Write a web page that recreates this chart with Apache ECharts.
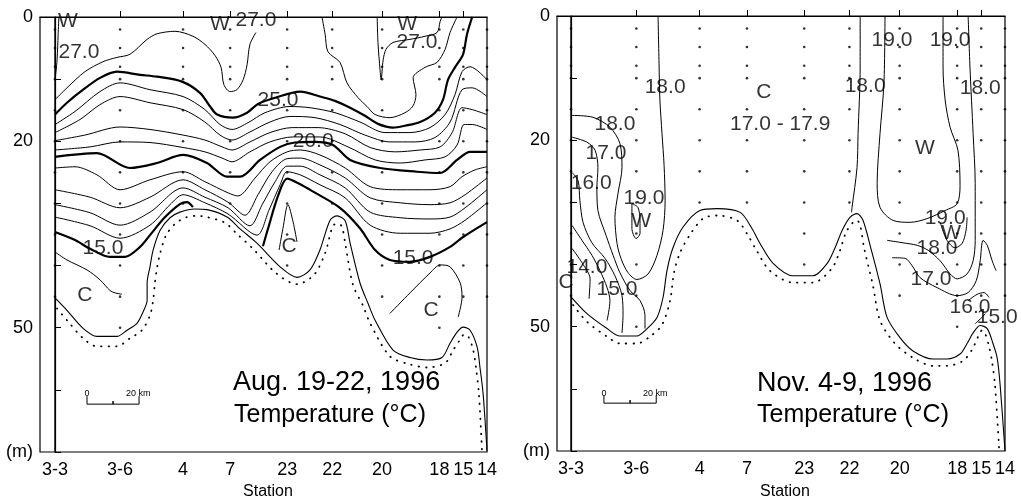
<!DOCTYPE html>
<html><head><meta charset="utf-8">
<script src="https://cdn.jsdelivr.net/npm/echarts@6/dist/echarts.min.js"></script>
<style>html,body{margin:0;padding:0;background:#fff}#c{width:1021px;height:502px}</style>
</head><body><div id="c"></div>
<script>
// ---------------- data ----------------
const stationNames = ['3-3','3-6','4','7','23','22','20','18','15','14'];
const stationKm    = [0, 25, 49.2, 67.3, 89.2, 106.5, 125.7, 147.7, 156.9, 166];
const sampleDepths = [2, 5, 8, 10, 15, 20, 25, 30, 35, 40, 45, 50];
const augMaxDepth  = [45, 50, 30, 30, 40, 30, 45, 50, 45, 45];
const novMaxDepth  = [45, 50, 30, 30, 40, 30, 45, 50, 45, 45];
const depthLabels  = [0, 20, 50, 70];

// August section contours [km, m]
const aug27a = [[1.5,0],[1.2,2.8],[0.8,6.9],[0,10.2]];
const aug27b = [[0,13.3],[4.6,11.4],[11.5,8.8],[18.4,7.2],[23.8,6.5],[28.8,6],[35.4,3.6],[39.2,2.7],[46.1,2.3],[53,3.1],[57.6,4.4],[61.5,6.2],[63.8,8.1],[64.9,10.9],[67.3,12],[69.9,11.7],[72.3,10.1],[73.8,7.7],[74.9,4.4],[77.2,2.5]];
const aug27c = [[123.8,0],[124.1,4.1],[124.9,8.5],[125.3,10.1],[126.1,6.9],[127.2,5.2],[129.9,4.1],[136.4,3.6],[142.2,3.1],[146.8,2.5],[148,0.7],[148.7,0]];
const aug26  = [[102.6,0],[103.8,2.8],[104.9,5.6],[109.5,7.3],[112.2,10.6],[116.5,13],[119.9,14.4],[123,15.7],[128.7,16.2],[134.5,15.4],[137.6,14.3],[138.7,12.5],[137.6,9.8],[142.2,8.1],[146.8,7.3],[149.9,5.2],[151.8,2.5],[154.5,0]];
const aug25  = [[0,15.7],[4.6,13.8],[10.8,11.7],[17.3,9.8],[23.8,8.8],[32.7,9.3],[39.2,9.6],[48.8,10.4],[55.7,12.2],[59.6,14.4],[62.3,15.7],[68.4,16.2],[73.8,15.4],[78,14],[84.6,13],[94.2,12],[101.8,12.8],[107.6,13.5],[113.4,14.6],[119.1,15.9],[124.1,17.2],[129.9,17.8],[134.5,17.5],[140.3,16.9],[146,15.4],[149.1,13.3],[151,10.1],[153.7,8.1],[156.8,6],[158.3,2.8],[160.3,0]];
const aug24  = [[0,17.3],[7.7,15.2],[17.3,12],[25,10.6],[36.5,11.7],[49.2,12.8],[57.6,14.9],[63.4,17.3],[68,18.1],[74.2,17],[80.7,15.4],[90.3,14.4],[98,14.6],[107.6,15.4],[117.2,16.9],[126.8,18.6],[136.4,18.6],[144.1,17.8],[149.9,15.7],[153.7,12.5],[156.4,8.8],[159.5,8],[166,10.1]];
const aug23  = [[0,18.6],[9.6,16.5],[17.3,14.1],[25,12.8],[36.5,13.8],[49.2,14.9],[57.6,16.9],[63.4,19],[68,19.8],[74.9,18.5],[82.6,16.9],[90.3,16],[99.9,16.2],[109.5,17.3],[119.1,19],[128.7,20.1],[138.4,20.1],[146,19.4],[151.8,16.9],[156.4,11.7],[160.3,11.4],[166,12.8]];
const aug22  = [[0,19.9],[11.5,19],[25,17.7],[36.5,18.1],[49.2,19],[57.6,19.8],[64.2,20.9],[68,21.4],[74.9,20.1],[82.6,18.6],[91.1,17.8],[101.1,17.8],[111.5,18.8],[121.1,21],[130.7,21.7],[140.3,21.4],[148,20.9],[152.6,18.6],[156.4,14.6],[160.3,14.9],[166,15.7]];
const aug21  = [[0,21.4],[13.5,20.9],[25,20.1],[36.5,20.2],[49.2,21],[57.6,21.7],[64.2,22.7],[68,23.3],[74.9,21.7],[82.6,20.1],[91.5,19.3],[101.8,19.3],[112.6,20.9],[123,23],[132.6,23.5],[142.2,23],[149.9,22.5],[154.5,20.6],[157.2,17.3],[160.3,17.3],[166,18.1]];
const aug20  = [[0,22.5],[16.1,21.9],[28.8,24.3],[39.2,23.5],[49.2,22.2],[58.4,23.5],[66.1,25.7],[71.1,25.7],[78.8,23],[86.5,20.9],[92.2,20.2],[99.9,20.1],[106.8,20.6],[113.4,23],[124.9,24.3],[139.1,24.9],[148,25.1],[154.5,23],[159.5,21.7],[166,21.7]];
const aug19  = [[0,24.3],[7.7,24.1],[16.1,25.4],[25,27.8],[36.5,26.2],[49.2,24.9],[57.6,26.5],[66.5,28.3],[70.3,28.8],[76.9,25.9],[82.6,23.3],[89.2,21.7],[94.2,21.4],[101.8,22.2],[111.5,24.3],[121.1,27.3],[132.6,27.8],[144.1,27.8],[151.8,27.3],[156.4,25.7],[161.4,24.6],[166,24.1]];
const aug18  = [[0,27.8],[13.5,29],[25,30.7],[36.5,29],[49.2,26.2],[57.6,27.8],[66.5,29.8],[73,31.9],[78,28.6],[83.4,24.9],[89.2,22.8],[94.2,22.7],[101.8,23.8],[111.5,25.9],[121.1,29.1],[132.6,29.9],[144.1,30.2],[151.8,29.9],[157.6,28.6],[166,25.9]];
const aug17  = [[0,30.2],[13.5,31.5],[25,33.5],[36.5,31.4],[49.2,27.5],[57.6,29],[66.5,30.7],[74.9,33.6],[79.6,30.2],[84.6,26.5],[89.2,24],[94.2,24],[101.8,25.4],[111.5,27.5],[121.1,31.4],[132.6,32.3],[144.1,32.5],[151.8,32.2],[157.6,30.7],[166,27.8]];
const aug16  = [[0,32.2],[13.5,33.6],[25,35.6],[36.5,33.5],[44.2,30.2],[49.2,28.6],[57.6,29.9],[66.5,31.7],[77.6,35.1],[82.2,31.1],[86.5,27],[89.2,24.9],[94.2,25.4],[101.8,27],[111.5,29.1],[121.1,33.5],[132.6,34.8],[144.1,34.8],[151.8,34.1],[157.6,32.7],[166,29.9]];
const aug15a = [[0,34.6],[7.7,35.9],[13.5,37.3],[21.1,38.6],[26.9,38.6],[32.7,37],[36.5,35.1],[42.3,32.2],[48,30.1],[50.7,29.8],[53,30.6]];
const aug15b = [[79.9,36.9],[81.9,34],[85.7,28.8],[89.2,26],[94.2,26.9],[99.2,28.1],[109.5,30.7],[117.2,34],[123,37.5],[128.7,39.1],[136.4,39.4],[144.1,38.6],[151.8,37],[156.8,35.4],[166,33]];
const aug14a = [[0,37.8],[4.6,39.1],[12.3,40.7],[17.3,42.3],[21.1,44],[23.1,44.4],[25.7,44.6]];
const aug14b = [[86.1,37.5],[87.6,34],[89.5,30.2],[91.5,33],[93,36.2]];
const aug14c = [[128.7,47.7],[136.4,44.4],[144.1,41.2],[148,39.9],[151.8,40.2],[155.7,42.8],[156.4,45.1],[154.9,48.3]];
const augBold = [aug25, aug20, aug15a, aug15b];
const augThin = [aug27a, aug27b, aug27c, aug26, aug24, aug23, aug22, aug21, aug19, aug18, aug17, aug16, aug14a, aug14b, aug14c];

const augDataEdge = [[0,45.2],[4.6,47.2],[10.8,50.1],[16.1,51.4],[23.8,51.4],[27.7,50.4],[31.5,49.3],[33.8,47.5],[35.4,45.6],[35.4,42.8],[36.5,40.2],[37.7,37.5],[40.4,34.3],[44.2,32.3],[48,31.4],[53.8,30.9],[58.4,31],[66.1,32.2],[71.1,34.1],[77.6,36.4],[86.5,40.2],[93,41.9],[98,40.7],[101.8,37.5],[105.7,32.7],[108.4,32],[111.5,32.8],[113.4,36.4],[117.2,42.8],[120.3,46.1],[123,48.8],[129.9,53.6],[136.4,54.8],[143,55.2],[148.7,54.8],[151.8,52.5],[154.5,50.7],[156.8,49.9],[159.5,50.4],[162.2,53.1],[163.3,56.4],[164.5,60.6],[166,69.8]];
const augSeabed = [[0.8,46.9],[4.6,48.8],[10.8,51.7],[16.1,53],[23.8,53],[28.8,51.7],[33.4,50.4],[36.5,48],[37.7,45.6],[38.4,42.8],[39.2,40.4],[40.4,38],[42.7,35.1],[46.1,33.3],[50,32.3],[54.6,32],[58.4,32.2],[65.3,33.1],[69.9,34.9],[76.1,37.3],[84.9,41.2],[93,43],[99.5,41.5],[103.8,38],[106.8,33.6],[108.8,33.2],[110.3,33.8],[111.5,36.4],[114.5,43.1],[118.4,46.5],[121.1,49.3],[128.7,54.6],[136.4,55.9],[143,56.4],[149.9,55.7],[153,53.6],[155.7,51.9],[157.2,51.1],[158.8,51.4],[160.7,53.6],[161.8,56.5],[162.9,60.7],[164.1,70]];

const augLabels = [[5,0.6,'W'],[9.2,5.6,'27.0'],[63.4,1.1,'W'],[77.2,0.5,'27.0'],[135.3,1.1,'W'],[139.1,4,'27.0'],[85.7,13.4,'25.0'],[99.2,20,'20.0'],[18.4,37.2,'15.0'],[137.6,38.8,'15.0'],[11.5,44.7,'C'],[89.9,36.9,'C'],[144.5,47.2,'C']];

// November section contours [km, m]
const nov18a = [[0.4,16],[8.4,16.3],[14.9,17.9],[18.7,20.5],[19.5,24.4],[18,28.5],[16.8,32.4],[17.6,36.6],[19.1,39],[21.8,41.3],[25.2,42.4],[29.5,41.5],[32.9,38.5],[35.2,34.5],[36,29.7],[35.6,24],[34.8,18.9],[34,13.5],[33.7,8.2],[33.3,0]];
const nov17a = [[0.4,19.5],[6.1,20.3],[9.2,21.6],[10.3,24.4],[9.9,27.6],[10.3,31.3],[13.4,35.3],[16.1,38.5],[18.7,41.3],[22.6,44.2],[26.4,45.8],[28.3,48.2],[28.3,50.3]];
const nov16a = [[0.4,25.2],[2.7,26.5],[3.4,29.7],[4.6,33.2],[8,36.5],[13,39],[16.8,41.8],[19.5,45],[19.9,48.2],[19.5,51]];
const nov15a = [[0.4,33.7],[4.2,36.1],[8,38.5],[11.1,41],[13.8,43.7],[14.9,45.8],[13.8,49]];
const nov14a = [[0.4,37.4],[4.2,39.7],[7.3,42.3],[6.9,45.5]];
const nov19a = [[23.3,30.2],[25.6,30.8],[26.4,32.9],[26.4,35],[24.9,35.8],[23.3,34.2],[23.3,32.1],[23.3,30.2]];
const nov18b = [[110.6,0],[110.6,8.2],[109.8,18.9],[109.4,24.4],[107.5,30.8],[107.3,31.6]];
const nov19b = [[120.1,0],[119.7,10.8],[118.2,18.9],[117.1,26.9],[118.2,30.8],[123.2,32.9],[129.7,33.2],[136.2,32.6],[143.1,31.3],[147.7,30.2],[148.8,27.3],[148,21.6],[145,17.9],[143.1,13.5],[142.3,8.2],[142.3,0]];
const nov19c = [[141.2,33.2],[143.8,36.1],[146.9,37.3],[149.6,36.6],[151.1,34.5],[151.5,32.4]];
const nov18c = [[151.9,0],[152.6,8.2],[153.8,18.9],[154.6,26.9],[154.6,32.4],[154.6,36.1],[153.8,39.4],[151.5,41.5],[147.7,42.3],[145,41.5],[141.2,39.4],[136.6,37.7],[132.4,36.9],[127,36.5],[120.9,36.1]];
const nov17c = [[122.8,38.9],[127.8,39],[130.5,40.2],[133.5,42.1],[140,43.7],[147.7,45],[151.9,44.5],[155,42.6],[156.5,39.4],[157.6,36.1],[159.2,36.9],[161.1,39.4],[162.6,41]];
const nov16c = [[151.9,45.8],[155.3,44.8],[158,44.5],[159.9,45.3]];
const nov15c = [[154.6,49.5],[157.2,48.5],[158.4,47.9]];
const novThin = [nov18a, nov17a, nov16a, nov15a, nov14a, nov19a, nov18b, nov19b, nov19c, nov18c, nov17c, nov16c, nov15c];

const novDataEdge = [[0,45.2],[6.1,47.9],[13.8,50.3],[18.7,51.5],[25.2,51.5],[29.1,50.3],[32.9,48.5],[35.2,45.3],[36.7,41],[39,37.3],[42.8,34],[49.3,31.3],[55.9,31],[64.7,31.6],[69.2,34.2],[72.3,36.6],[77.3,39.8],[84.9,41.8],[92.6,41.8],[98,39.8],[101,37.3],[103.7,34.5],[106.7,32.4],[109.4,31.8],[111.7,32.9],[114.4,36.9],[118.2,43.1],[120.9,48.5],[125.9,51.8],[130.8,53.9],[138.5,55.2],[143.8,55.2],[148.8,54.4],[151.5,52.7],[153.8,51],[156.5,49.8],[159.2,50.3],[161.4,52.7],[163,55],[164.1,59.2],[166,70]];
const novSeabed = [[0.8,46.5],[6.1,49.2],[13.8,51.6],[18.7,52.7],[25.2,52.7],[30.2,51.6],[34.8,49.7],[37.9,45.8],[39.4,41.3],[41.7,38.1],[45.5,35.2],[50.5,32.6],[55.9,32.1],[63.5,32.9],[67.7,35.3],[71.2,37.9],[76.1,41],[84.9,42.9],[92.6,42.9],[99.8,40.6],[102.9,37.7],[105.2,34.8],[107.9,33.2],[109.4,32.9],[110.6,33.7],[112.1,37.3],[115.5,43.4],[118.2,49],[123.9,52.7],[130.8,55],[138.5,56.3],[143.8,56.3],[149.9,55.5],[153.4,53.7],[155.7,51.6],[157.2,50.6],[158.4,51.1],[159.9,53.2],[161,55.5],[162.2,59.5],[163.8,70]];

const novLabels = [[36,11.5,'18.0'],[73.8,12.3,'C'],[80,17.4,'17.0 - 17.9'],[112.5,11.3,'18.0'],[122.8,3.9,'19.0'],[145,3.9,'19.0'],[156.5,11.6,'18.0'],[135.4,21.3,'W'],[16.8,17.4,'18.0'],[13.4,22.1,'17.0'],[7.7,26.9,'16.0'],[27.9,29.4,'19.0'],[26.8,33.1,'W'],[6.1,40.5,'14.0'],[-1.9,42.9,'C'],[17.6,43.9,'15.0'],[143.1,32.6,'19.0'],[145.4,35,'W'],[140,37.4,'18.0'],[137.7,42.3,'17.0'],[152.6,46.8,'16.0'],[163,48.5,'15.0']];

const scaleKm = 20;
const augScaleStart = 12.3, novScaleStart = 12.6;
const scaleDepth = 62.3;

// ---------------- chart ----------------
const FONT = '"Liberation Sans", Arial, Helvetica, sans-serif';
const chart = echarts.init(document.getElementById('c'), null, {renderer: 'canvas'});

function stationName(v) {
  for (let i = 0; i < stationKm.length; i++) if (Math.abs(stationKm[i] - v) < 0.01) return stationNames[i];
  return '';
}
function lineSeries(g, data, width, extra) {
  return Object.assign({
    type: 'line', xAxisIndex: g, yAxisIndex: g, data: data,
    symbol: 'none', showSymbol: false, smooth: 0.3, silent: true, animation: false,
    lineStyle: {color: '#000', width: width}, z: 3
  }, extra || {});
}
function dotsSeries(g, maxDepth) {
  const pts = [];
  stationKm.forEach((x, i) => sampleDepths.forEach(d => { if (d <= maxDepth[i]) pts.push([x, d]); }));
  return {type: 'scatter', xAxisIndex: g, yAxisIndex: g, data: pts, symbolSize: 2.6,
          itemStyle: {color: '#000'}, silent: true, animation: false, z: 4};
}
function labelSeries(g, labels) {
  return {type: 'scatter', xAxisIndex: g, yAxisIndex: g, symbolSize: 1, clip: false,
          data: labels.map(l => ({value: [l[0], l[1]], name: l[2]})),
          itemStyle: {color: 'rgba(0,0,0,0)'}, silent: true, animation: false, z: 6,
          label: {show: true, position: 'inside', formatter: '{b}', fontSize: 21, color: '#000', fontFamily: FONT}};
}
function scaleBar(g, x0) {
  const d = scaleDepth;
  return lineSeries(g, [[x0, d - 1.3], [x0, d], [x0 + scaleKm / 2, d], [x0 + scaleKm / 2, d - 0.5], [x0 + scaleKm / 2, d], [x0 + scaleKm, d], [x0 + scaleKm, d - 1.3]], 1, {smooth: false});
}
function xAxis(g, min) {
  return {gridIndex: g, type: 'value', min: min, max: 166,
    axisLine: {show: true, lineStyle: {color: '#000', width: 1.2}},
    axisTick: {show: true, inside: true, length: 6, customValues: stationKm.slice(1, -1), lineStyle: {color: '#000'}},
    axisLabel: {customValues: stationKm, formatter: v => stationName(v), fontSize: 18, color: '#000', margin: 9, fontFamily: FONT},
    splitLine: {show: false}};
}
function yAxis(g) {
  return {gridIndex: g, type: 'value', inverse: true, min: 0, max: 70, interval: 10,
    axisLine: {show: true, lineStyle: {color: '#000', width: 1.2}},
    axisTick: {show: true, inside: true, length: 6, lineStyle: {color: '#000'}},
    axisLabel: {customValues: depthLabels, formatter: v => (v === 70 ? '(m)' : String(v)), fontSize: 18, color: '#000', margin: 7, fontFamily: FONT},
    splitLine: {show: false}};
}

const series = [];
augThin.forEach(c => series.push(lineSeries(0, c, 1)));
augBold.forEach(c => series.push(lineSeries(0, c, 2.2)));
series.push(lineSeries(0, augDataEdge, 1.1));
series.push(lineSeries(0, augSeabed, 1.8, {lineStyle: {color: '#000', width: 1.8, type: [0.5, 7], cap: 'round'}}));
series.push(lineSeries(0, [[stationKm[0], 0], [stationKm[0], 70]], 1.4, {smooth: false}));
series.push(dotsSeries(0, augMaxDepth));
series.push(labelSeries(0, augLabels));
series.push(scaleBar(0, augScaleStart));

novThin.forEach(c => series.push(lineSeries(1, c, 1)));
series.push(lineSeries(1, novDataEdge, 1.1));
series.push(lineSeries(1, novSeabed, 1.8, {lineStyle: {color: '#000', width: 1.8, type: [0.5, 7], cap: 'round'}}));
series.push(lineSeries(1, [[stationKm[0], 0], [stationKm[0], 70]], 1.4, {smooth: false}));
series.push(dotsSeries(1, novMaxDepth));
series.push(labelSeries(1, novLabels));
series.push(scaleBar(1, novScaleStart));

function txt(text, x, y, size, align) {
  return {type: 'text', x: x, y: y, silent: true,
          style: {text: text, fontSize: size, fontFamily: FONT, fill: '#000', align: align || 'left', verticalAlign: 'middle'}};
}

chart.setOption({
  animation: false,
  backgroundColor: '#fff',
  textStyle: {fontFamily: FONT},
  grid: [
    {left: 40, top: 17, width: 447, height: 435, show: true, borderColor: '#000', borderWidth: 1.2, backgroundColor: 'transparent'},
    {left: 557, top: 16, width: 448, height: 435, show: true, borderColor: '#000', borderWidth: 1.2, backgroundColor: 'transparent'}
  ],
  xAxis: [xAxis(0, -5.765), xAxis(1, -5.356)],
  yAxis: [yAxis(0), yAxis(1)],
  series: series,
  graphic: [
    txt('Aug. 19-22, 1996', 233, 383, 27),
    txt('Temperature (\u00B0C)', 234, 415, 25),
    txt('Nov. 4-9, 1996', 757, 384, 27),
    txt('Temperature (\u00B0C)', 757, 415, 25),
    txt('Station', 268, 492, 16, 'center'),
    txt('Station', 785, 492, 16, 'center'),
    txt('0', 87, 394, 9, 'center'),
    txt('20 km', 126, 394, 9),
    txt('0', 604, 394, 9, 'center'),
    txt('20 km', 643, 394, 9)
  ]
});
</script>
</body></html>
